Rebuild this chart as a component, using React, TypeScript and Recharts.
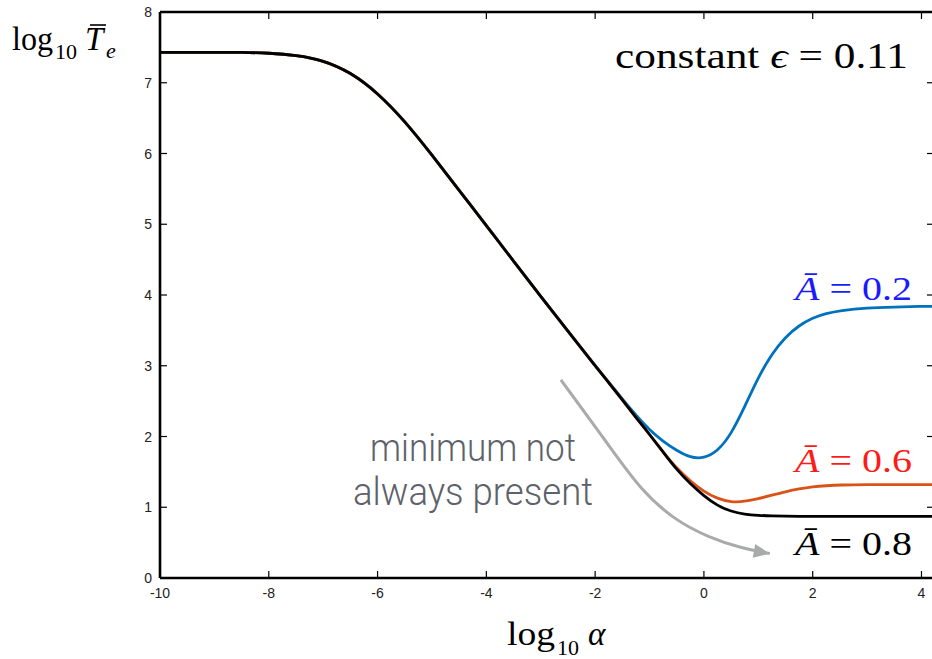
import React from 'react';
import { LineChart, Line, XAxis, YAxis } from 'recharts';

const xTicks = [-10, -8, -6, -4, -2, 0, 2, 4];
const yTicks = [0, 1, 2, 3, 4, 5, 6, 7, 8];

const alpha = [-10, -9.5, -9, -8.5, -8, -7.5, -7, -6.5, -6, -5.5, -5, -4.5, -4, -3.5, -3, -2.5, -2, -1.75, -1.5, -1.25, -1, -0.75, -0.5, -0.25, 0, 0.25, 0.5, 0.75, 1, 1.25, 1.5, 1.75, 2, 2.25, 2.5, 3, 3.5, 4, 4.25];
const teA08 = [7.43, 7.43, 7.43, 7.43, 7.42, 7.39, 7.32, 7.15, 6.86, 6.46, 5.98, 5.48, 4.98, 4.48, 3.98, 3.49, 3.0, 2.76, 2.52, 2.27, 2.03, 1.78, 1.53, 1.33, 1.16, 1.02, 0.94, 0.9, 0.885, 0.878, 0.875, 0.872, 0.87, 0.87, 0.87, 0.87, 0.87, 0.87, 0.87];
const teA02 = [7.43, 7.43, 7.43, 7.43, 7.42, 7.39, 7.32, 7.15, 6.86, 6.46, 5.98, 5.48, 4.98, 4.48, 3.98, 3.49, 3.0, 2.77, 2.53, 2.3, 2.09, 1.93, 1.8, 1.7, 1.69, 1.79, 2.03, 2.42, 2.84, 3.17, 3.41, 3.57, 3.68, 3.74, 3.78, 3.82, 3.83, 3.84, 3.84];
const teA06 = [7.43, 7.43, 7.43, 7.43, 7.42, 7.39, 7.32, 7.15, 6.86, 6.46, 5.98, 5.48, 4.98, 4.48, 3.98, 3.49, 3.0, 2.76, 2.52, 2.27, 2.03, 1.78, 1.55, 1.37, 1.22, 1.12, 1.07, 1.08, 1.12, 1.17, 1.22, 1.26, 1.29, 1.305, 1.315, 1.32, 1.32, 1.32, 1.32];

const arrowX = [-2.63, -1.77, -1.16, -0.54, 0.07, 0.69, 1.21];
const arrowY = [2.8, 1.9, 1.24, 0.82, 0.58, 0.42, 0.345];

const rows = alpha.map((a, i) => ({ alpha: a, a02: teA02[i], a06: teA06[i], a08: teA08[i] }));
const arrowRows = arrowX.map((a, i) => ({ alpha: a, arrow: arrowY[i] }));

const SANS = "'Liberation Sans', Arial, Helvetica, sans-serif";
const SERIF = "'Liberation Serif', 'Times New Roman', serif";

const LeftTick = (props: any) => {
  const { x, y, payload } = props;
  return (
    <g>
      <line x1={x + 8} y1={y} x2={x + 15} y2={y} stroke="#000" strokeWidth={1.2} />
      <text x={x} y={y} dy={5} textAnchor="end" fontFamily={SANS} fontSize={14} fill="#222">{payload.value}</text>
    </g>
  );
};

const BottomTick = (props: any) => {
  const { x, y, payload } = props;
  return (
    <g>
      <line x1={x} y1={y - 10} x2={x} y2={y - 17} stroke="#000" strokeWidth={1.2} />
      <text x={x} y={y} dy={10} textAnchor="middle" fontFamily={SANS} fontSize={14} fill="#222">{payload.value}</text>
    </g>
  );
};

const TopTick = (props: any) => {
  const { x, y } = props;
  return <line x1={x} y1={y} x2={x} y2={y + 7} stroke="#000" strokeWidth={1.2} />;
};

const RightTick = (props: any) => {
  const { x, y } = props;
  return <line x1={x} y1={y} x2={x - 7} y2={y} stroke="#000" strokeWidth={1.2} />;
};

const ArrowDot = (props: any) => {
  const { cx, cy, index } = props;
  if (index !== arrowX.length - 1) return <g key={`ad${index}`} />;
  return (
    <polygon
      key={`ad${index}`}
      points={`${cx},${cy} ${cx - 16},${cy - 7} ${cx - 16},${cy + 7}`}
      transform={`rotate(10 ${cx} ${cy})`}
      fill="#a9abab"
    />
  );
};

export default function App() {
  return (
    <div style={{ position: 'absolute', left: 0, top: 0, width: 932, height: 659, overflow: 'hidden', background: '#fff' }}>
      <LineChart width={940} height={659} data={rows} margin={{ top: 11, right: 5, bottom: 51, left: 0 }}>
        <XAxis
          dataKey="alpha"
          type="number"
          domain={[-10, 4.23]}
          ticks={xTicks}
          allowDataOverflow
          height={30}
          tickSize={0}
          tickMargin={10}
          tickLine={false}
          axisLine={{ stroke: '#000', strokeWidth: 2.6 }}
          tick={<BottomTick />}
          interval={0}
        />
        <XAxis
          xAxisId="top"
          orientation="top"
          dataKey="alpha"
          type="number"
          domain={[-10, 4.23]}
          ticks={xTicks}
          allowDataOverflow
          height={1}
          tickSize={0}
          tickMargin={0}
          tickLine={false}
          axisLine={{ stroke: '#000', strokeWidth: 2.6 }}
          tick={<TopTick />}
          interval={0}
        />
        <YAxis
          type="number"
          domain={[0, 8]}
          ticks={yTicks}
          allowDataOverflow
          width={160}
          tickSize={0}
          tickMargin={8}
          tickLine={false}
          axisLine={{ stroke: '#000', strokeWidth: 2.6 }}
          tick={<LeftTick />}
          interval={0}
        />
        <YAxis
          yAxisId="right"
          orientation="right"
          type="number"
          domain={[0, 8]}
          ticks={yTicks}
          allowDataOverflow
          width={1}
          tickSize={0}
          tickMargin={0}
          tickLine={false}
          axisLine={{ stroke: '#000', strokeWidth: 2.6 }}
          tick={<RightTick />}
          interval={0}
        />
        <Line
          data={arrowRows}
          dataKey="arrow"
          type="basis"
          stroke="#a9abab"
          strokeWidth={3}
          dot={<ArrowDot />}
          activeDot={false}
          isAnimationActive={false}
        />
        <Line dataKey="a02" type="basis" stroke="#0072BD" strokeWidth={2.8} dot={false} activeDot={false} isAnimationActive={false} />
        <Line dataKey="a06" type="basis" stroke="#D95319" strokeWidth={2.8} dot={false} activeDot={false} isAnimationActive={false} />
        <Line dataKey="a08" type="basis" stroke="#000000" strokeWidth={2.8} dot={false} activeDot={false} isAnimationActive={false} />
      </LineChart>
      <svg width={932} height={659} style={{ position: 'absolute', left: 0, top: 0, pointerEvents: 'none' }}>
        <g fontFamily={SERIF} fill="#000">
          <text x={12} y={50} fontSize={33} textLength={41} lengthAdjust="spacingAndGlyphs">log</text>
          <text x={55} y={59} fontSize={22}>10</text>
          <text x={85} y={50} fontSize={33} fontStyle="italic">T</text>
          <line x1={90} y1={25} x2={106} y2={25} stroke="#000" strokeWidth={1.6} />
          <text x={106} y={58} fontSize={22} fontStyle="italic">e</text>

          <text x={507} y={645} fontSize={33} textLength={48} lengthAdjust="spacingAndGlyphs">log</text>
          <text x={557} y={655} fontSize={22}>10</text>
          <text x={588} y={645} fontSize={33} fontStyle="italic">α</text>

          <text x={615} y={68} fontSize={36} textLength={293} lengthAdjust="spacingAndGlyphs">
            constant <tspan fontStyle="italic">ϵ</tspan> = 0.11
          </text>

          <text x={795} y={300} fontSize={34} fill="#1a1aff" textLength={117} lengthAdjust="spacingAndGlyphs">
            <tspan fontStyle="italic">Ā</tspan> = 0.2
          </text>
          <text x={795} y={472} fontSize={34} fill="#ff1a1a" textLength={117} lengthAdjust="spacingAndGlyphs">
            <tspan fontStyle="italic">Ā</tspan> = 0.6
          </text>
          <text x={795} y={555} fontSize={34} fill="#000" textLength={117} lengthAdjust="spacingAndGlyphs">
            <tspan fontStyle="italic">Ā</tspan> = 0.8
          </text>
        </g>
        <g fontFamily="Roboto, 'Open Sans', sans-serif" fontWeight={300} fill="#5d6169" textAnchor="middle" fontSize={38}>
          <text x={473} y={461} textLength={206} lengthAdjust="spacingAndGlyphs">minimum not</text>
          <text x={473} y={505} textLength={240} lengthAdjust="spacingAndGlyphs">always present</text>
        </g>
      </svg>
    </div>
  );
}
